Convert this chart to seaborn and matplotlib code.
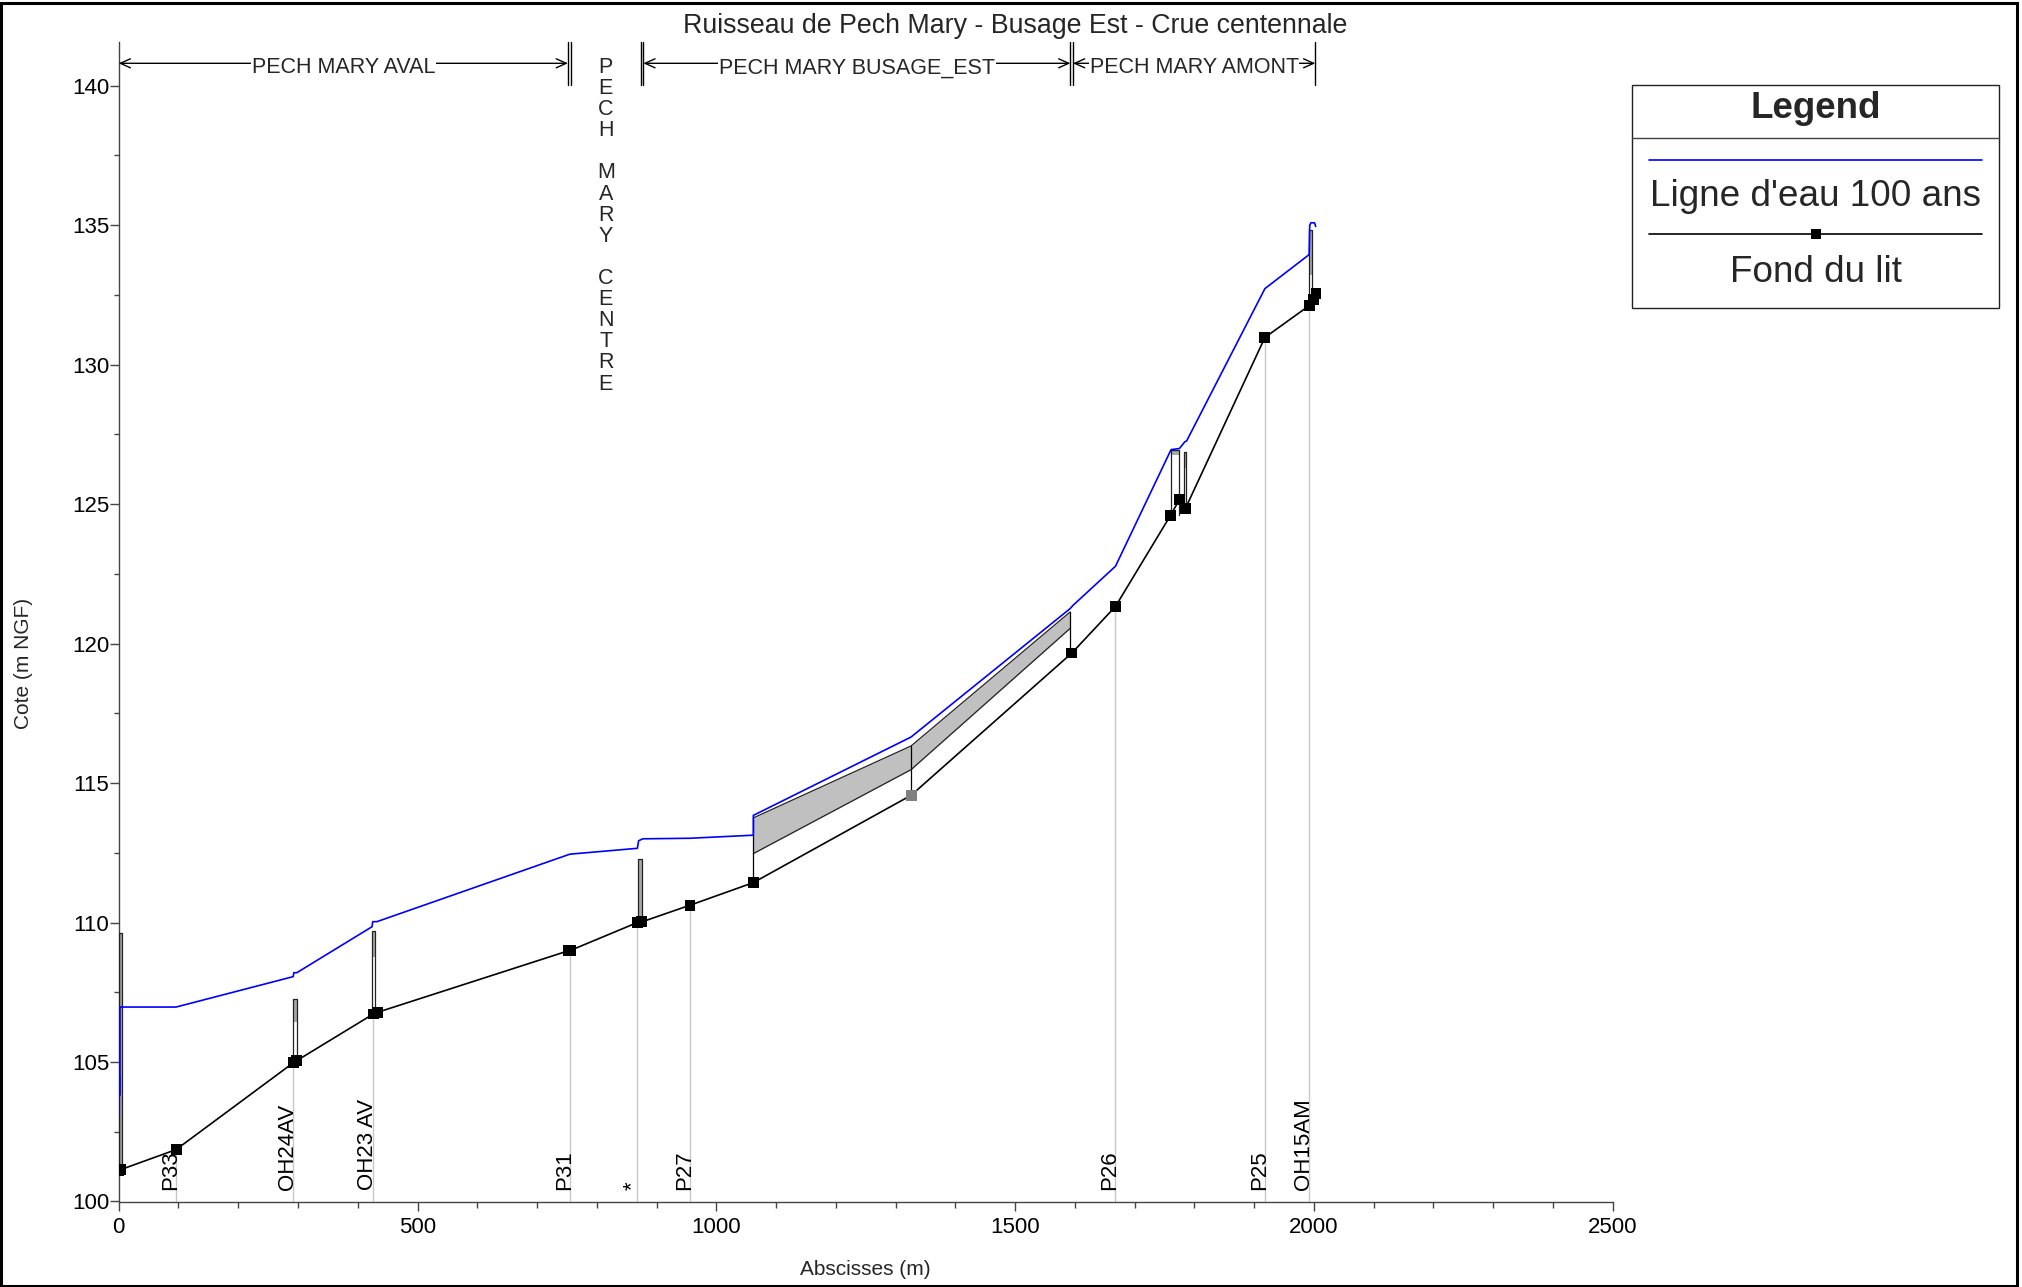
import numpy as np
import pandas as pd
import matplotlib
matplotlib.use("Agg")
import matplotlib.pyplot as plt
import matplotlib.transforms as mtransforms
from matplotlib.patches import Rectangle
from matplotlib.lines import Line2D
from matplotlib.ticker import MultipleLocator
import seaborn as sns

# ---------------------------------------------------------------- data
title = "Ruisseau de Pech Mary - Busage Est - Crue centennale"
x_label = "Abscisses (m)"
y_label = "Cote (m NGF)"
legend_title = "Legend"
legend_labels = ["Ligne d'eau 100 ans", "Fond du lit"]

# water line (100-year flood)
water_x = [0, 0, 1, 1, 2, 2, 96, 292, 293, 298, 424, 425, 432, 755, 868, 870,
           877, 956, 1062, 1062, 1326, 1592, 1597, 1668, 1761, 1775,
           1784, 1787, 1918, 1992, 1993, 1995, 2001, 2003]
water_z = [103.1, 104.5, 104.5, 103.8, 103.8, 106.97, 106.97, 108.06, 108.2,
           108.2, 109.85, 110.03, 110.03, 112.45, 112.66, 112.93, 113.0,
           113.02, 113.13, 113.84, 116.65, 121.25, 121.37, 122.77,
           126.95, 126.99, 127.23, 127.26, 132.72, 133.94, 134.99, 135.08,
           135.08, 134.95]

# river bed
bed_x = [0, 3, 96, 292, 298, 426, 433, 753, 756, 868, 875, 956, 1062, 1326,
         1595, 1668, 1760, 1775, 1785, 1918, 1992, 1999, 2003.5]
bed_z = [101.12, 101.14, 101.86, 104.97, 105.05, 106.72, 106.78, 108.99,
         109.0, 110.0, 110.02, 110.62, 111.43, 114.56, 119.66, 121.33, 124.59,
         125.16, 124.84, 130.97, 132.11, 132.34, 132.56]
bed_marker_color = ["black"] * 13 + ["#808080"] + ["black"] * 9

# profiles (labels at the bottom + light grey verticals)
profile_names = ["P33", "OH24AV", "OH23 AV", "P31", "*", "P27", "P26", "P25", "OH15AM"]
profile_x = [96, 292.5, 425, 755, 868, 956, 1668, 1918, 1992]
profile_z = [101.86, 104.97, 106.72, 108.99, 110.0, 110.62, 121.33, 130.97, 132.11]

# small hydraulic structures (thin boxes)
struct_x0 = [0, 292.5, 424.4, 868.5, 1760.4, 1783.1, 1991.8]
struct_x1 = [5, 298.9, 428.9, 875.2, 1774.8, 1786.5, 1997.3]
struct_bottom = [101.13, 105.0, 106.72, 110.0, 124.59, 124.84, 132.11]
struct_top = [109.63, 107.26, 109.69, 112.27, 126.95, 126.87, 134.84]
struct_fill_bottom = [101.13, 106.44, 108.77, 110.0, 126.75, 126.3, 133.2]

# culvert (busage)
culvert_x = [1062, 1326, 1592]
culvert_top = [113.75, 116.33, 121.13]
culvert_bottom = [112.47, 115.48, 120.54]
culvert_bed = [111.43, 114.56, 119.66]

# reaches shown on top
section_names = ["PECH MARY AVAL", "PECH MARY BUSAGE_EST", "PECH MARY AMONT"]
section_start = [0, 877.9, 1596.9]
section_end = [751.7, 1592.5, 2002.3]
boundary_x = [751.7, 757.5, 874.1, 877.9, 1592.5, 1596.9, 2002.3]
centre_name = "PECH MARY CENTRE"
centre_x = 815

# ---------------------------------------------------------------- style
sns.set_theme(style="white")
plt.rcParams["font.family"] = ["Liberation Sans", "DejaVu Sans"]

W, H = 2022, 1287
fig = plt.figure(figsize=(W / 100, H / 100), dpi=100)
fig.patch.set_facecolor("white")


def fx(px):
    return px / W


def fy(py):
    return 1 - py / H


AX_L, AX_R, AX_T, AX_B = 118.7, 1612.7, 42.3, 1201.5
ax = fig.add_axes([fx(AX_L), fy(AX_B), (AX_R - AX_L) / W, (AX_B - AX_T) / H])
ax.set_facecolor("white")


def ay(py):
    # figure pixel row -> axes fraction
    return (AX_B - py) / (AX_B - AX_T)


bt = mtransforms.blended_transform_factory(ax.transData, ax.transAxes)

# grey profile verticals
for px_, pz in zip(profile_x, profile_z):
    ax.plot([px_, px_], [100, pz], color="#c8c8c8", lw=1.0, zorder=1)

# structures
for x0, x1, zb, zt, zf in zip(struct_x0, struct_x1, struct_bottom, struct_top, struct_fill_bottom):
    ax.fill_between([x0, x1], [zf, zf], [zt, zt], color="#a8a8a8", lw=0, zorder=2)
    ax.plot([x0, x0, x1, x1], [zb, zt, zt, zb], color="#222222", lw=0.9, zorder=3)

# culvert
ax.fill_between(culvert_x, culvert_bottom, culvert_top, color="#c0c0c0", lw=0, zorder=2)
ax.plot(culvert_x, culvert_top, color="#222222", lw=0.9, zorder=3)
ax.plot(culvert_x, culvert_bottom, color="#222222", lw=0.9, zorder=3)
for cx, cb, ct in zip(culvert_x, culvert_bed, culvert_top):
    ax.plot([cx, cx], [cb, ct], color="black", lw=0.9, zorder=3)

# bed line and water line
bed_df = pd.DataFrame({"x": bed_x, "z": bed_z, "c": bed_marker_color})
water_df = pd.DataFrame({"x": water_x, "z": water_z})
sns.lineplot(data=bed_df, x="x", y="z", sort=False, estimator=None, color="black",
             lw=1.2, ax=ax, zorder=4)
sns.scatterplot(data=bed_df, x="x", y="z", marker="s", s=62, c=bed_df["c"],
                linewidth=0, ax=ax, zorder=5)
sns.lineplot(data=water_df, x="x", y="z", sort=False, estimator=None, color="#0000ff",
             lw=1.2, ax=ax, zorder=6)

# profile labels
for name, px_ in zip(profile_names, profile_x):
    ax.text(px_, ay(1190), name, transform=bt, rotation=90, rotation_mode="anchor",
            ha="left", va="baseline", fontsize=16, color="black", zorder=7)

# reach header
arrow_y = ay(63.3)
for x in boundary_x:
    ax.plot([x, x], [ay(85.3), 1.0], transform=bt, color="black", lw=1.0, clip_on=False)
for name, s, e in zip(section_names, section_start, section_end):
    ax.annotate("", xy=(e, arrow_y), xytext=(s, arrow_y), xycoords=bt, textcoords=bt,
                arrowprops=dict(arrowstyle="<->,head_length=0.6,head_width=0.27",
                                mutation_scale=12, lw=1.0, color="black",
                                shrinkA=0, shrinkB=0))
    ax.text((s + e) / 2, ay(73.3), name, transform=bt, ha="center", va="baseline",
            fontsize=15.5, bbox=dict(facecolor="white", edgecolor="none", pad=0.5), zorder=8)
for i, ch in enumerate(centre_name):
    if ch.strip():
        ax.text(centre_x, ay(73.0 + 21.1 * i), ch, transform=bt, ha="center",
                va="baseline", fontsize=15.5)

# axes cosmetics
ax.set_xlim(0, 2500)
ax.set_ylim(100, 141.55)
ax.xaxis.set_major_locator(MultipleLocator(500))
ax.xaxis.set_minor_locator(MultipleLocator(100))
ax.yaxis.set_major_locator(MultipleLocator(5))
ax.yaxis.set_minor_locator(MultipleLocator(2.5))
for side in ["top", "right"]:
    ax.spines[side].set_visible(False)
for side in ["left", "bottom"]:
    ax.spines[side].set_color("#444444")
    ax.spines[side].set_linewidth(1.0)
ax.tick_params(axis="both", which="both", direction="out", colors="#444444",
               labelcolor="black", labelsize=16, width=1.0,
               bottom=True, left=True, top=False, right=False)
ax.tick_params(axis="y", which="major", length=6.4, pad=0.5)
ax.tick_params(axis="y", which="minor", length=3.3)
ax.tick_params(axis="x", which="major", length=6.3, pad=5.0)
ax.tick_params(axis="x", which="minor", length=4.3)
ax.grid(False)

ax.set_xlabel(x_label, fontsize=15, va="baseline")
ax.xaxis.set_label_coords(0.5, ay(1275))
ax.set_ylabel(y_label, fontsize=15, rotation=90, rotation_mode="anchor",
              ha="center", va="baseline")
ax.yaxis.set_label_coords((29 - AX_L) / (AX_R - AX_L), ay(663))

# title
fig.text(fx(1015), fy(33.3), title, ha="center", va="baseline", fontsize=19.3)

# legend box (drawn like the original)
lg_l, lg_r, lg_t, lg_b = 1631.7, 1999.3, 85, 308.3
fig.add_artist(Rectangle((fx(lg_l), fy(lg_b)), (lg_r - lg_l) / W, (lg_b - lg_t) / H,
                         transform=fig.transFigure, fill=False, edgecolor="#222222", lw=1.0))
fig.add_artist(Line2D([fx(lg_l), fx(lg_r)], [fy(137.7)] * 2, transform=fig.transFigure,
                      color="#444444", lw=1.0))
fig.text(fx(1815.5), fy(118.3), legend_title, ha="center", va="baseline",
         fontsize=26.5, fontweight="bold")
fig.add_artist(Line2D([fx(1649.3), fx(1981.7)], [fy(160)] * 2, transform=fig.transFigure,
                      color="#0000ff", lw=1.2))
fig.text(fx(1815.5), fy(205.7), legend_labels[0], ha="center", va="baseline", fontsize=26.6)
fig.add_artist(Line2D([fx(1649.3), fx(1981.7)], [fy(234)] * 2, transform=fig.transFigure,
                      color="black", lw=1.2))
fig.add_artist(Line2D([fx(1816)], [fy(234)], transform=fig.transFigure, marker="s",
                      color="black", ms=6.5, mew=0, lw=0))
fig.text(fx(1815.5), fy(281.7), legend_labels[1], ha="center", va="baseline", fontsize=26.6)

# figure frame
fig.add_artist(Rectangle((fx(1.0), fy(1285.5)), (2016.5 - 1.0) / W, (1285.5 - 2.5) / H,
                         transform=fig.transFigure, fill=False, edgecolor="black", lw=2.2))

fig.savefig("out.png", dpi=100, facecolor="white")
